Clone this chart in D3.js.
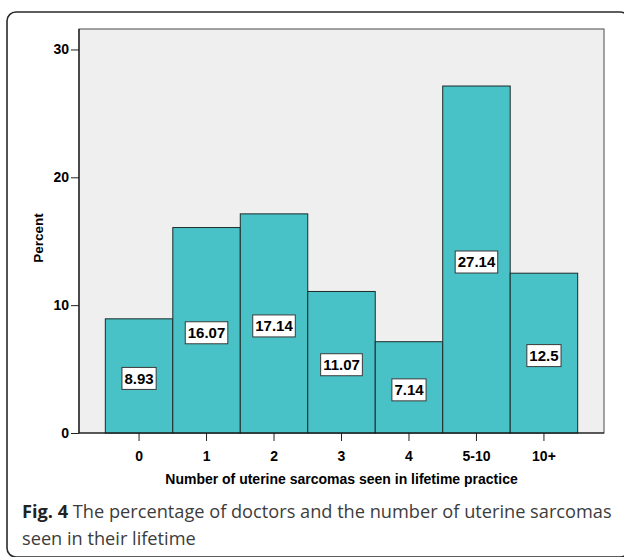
<!DOCTYPE html>
<html>
<head>
<meta charset="utf-8">
<script src="https://cdn.jsdelivr.net/npm/d3@7"></script>
<style>
  html, body { margin: 0; padding: 0; background: #fff; }
  svg { display: block; }
</style>
</head>
<body>
<svg id="chart" width="624" height="557"></svg>
<script>
// Percentage of doctors by number of uterine sarcomas seen
const categories = ["0", "1", "2", "3", "4", "5-10", "10+"];
const percents = [8.93, 16.07, 17.14, 11.07, 7.14, 27.14, 12.5];
const yTicks = [0, 10, 20, 30];

const svg = d3.select("#chart");

// Rounded frame around figure and caption
svg.append("rect")
  .attr("x", 7).attr("y", 12)
  .attr("width", 622).attr("height", 545)
  .attr("rx", 9).attr("ry", 9)
  .attr("fill", "none")
  .attr("stroke", "#2a2a2a")
  .attr("stroke-width", 1.6);

const plot = { left: 79, right: 604, top: 29, bottom: 433 };

const x = d3.scaleBand()
  .domain(categories)
  .range([plot.left, plot.right])
  .paddingInner(0)
  .paddingOuter(0.39);

const y = d3.scaleLinear()
  .domain([0, 31.6])
  .range([plot.bottom, plot.top]);

// Plot background
svg.append("rect")
  .attr("x", plot.left).attr("y", plot.top)
  .attr("width", plot.right - plot.left)
  .attr("height", plot.bottom - plot.top)
  .attr("fill", "#efefef")
  .attr("stroke", "#4a4a4a")
  .attr("stroke-width", 1);

const data = categories.map((c, i) => ({ c, v: percents[i] }));

// Bars
svg.append("g").selectAll("rect")
  .data(data)
  .join("rect")
  .attr("x", d => x(d.c))
  .attr("y", d => y(d.v))
  .attr("width", x.bandwidth())
  .attr("height", d => y(0) - y(d.v))
  .attr("fill", "#48c2c6")
  .attr("stroke", "#1e2a2a")
  .attr("stroke-width", 1);

// Value labels in boxes
const labelFont = "bold 15px Arial, 'Liberation Sans', sans-serif";
const lg = svg.append("g").selectAll("g")
  .data(data)
  .join("g")
  .attr("transform", d => `translate(${x(d.c) + x.bandwidth() / 2},${(y(d.v) + y(0)) / 2 + 2.5})`);

lg.append("text")
  .attr("text-anchor", "middle")
  .attr("dy", "0.36em")
  .style("font", labelFont)
  .attr("fill", "#000")
  .text(d => String(d.v))
  .each(function () {
    const w = this.getComputedTextLength();
    d3.select(this.parentNode).insert("rect", "text")
      .attr("x", -w / 2 - 2.5)
      .attr("y", -11)
      .attr("width", w + 5)
      .attr("height", 22)
      .attr("fill", "#fff")
      .attr("stroke", "#3a3a3a")
      .attr("stroke-width", 1);
  });

// Axes
const axisFont = "bold 14px Arial, 'Liberation Sans', sans-serif";

const yAxis = svg.append("g")
  .attr("transform", `translate(${plot.left},0)`)
  .call(d3.axisLeft(y).tickValues(yTicks).tickSize(8).tickPadding(2).tickSizeOuter(0));
yAxis.select(".domain").remove();
yAxis.selectAll("line").attr("stroke", "#222");
yAxis.selectAll("text").style("font", axisFont).attr("fill", "#000");

const xAxis = svg.append("g")
  .attr("transform", `translate(0,${plot.bottom})`)
  .call(d3.axisBottom(x).tickSize(8).tickPadding(10).tickSizeOuter(0));
xAxis.select(".domain").remove();
xAxis.selectAll("line").attr("stroke", "#222");
xAxis.selectAll("text").style("font", axisFont).attr("fill", "#000");

// Axis lines
svg.append("line")
  .attr("x1", plot.left).attr("x2", plot.left)
  .attr("y1", plot.top).attr("y2", plot.bottom)
  .attr("stroke", "#111").attr("stroke-width", 1.2);
svg.append("line")
  .attr("x1", plot.left).attr("x2", plot.right)
  .attr("y1", plot.bottom).attr("y2", plot.bottom)
  .attr("stroke", "#111").attr("stroke-width", 1.2);

// Axis titles
svg.append("text")
  .attr("x", (plot.left + plot.right) / 2)
  .attr("y", 484)
  .attr("text-anchor", "middle")
  .style("font", "bold 14px Arial, 'Liberation Sans', sans-serif")
  .attr("fill", "#000")
  .text("Number of uterine sarcomas seen in lifetime practice");

svg.append("text")
  .attr("transform", "translate(43,238) rotate(-90)")
  .attr("text-anchor", "middle")
  .style("font", "bold 13.5px Arial, 'Liberation Sans', sans-serif")
  .attr("fill", "#000")
  .text("Percent");

// Caption
const capFamily = "'Open Sans', 'Noto Sans', sans-serif";
const cap = svg.append("text")
  .attr("x", 22)
  .attr("y", 518)
  .style("font-family", capFamily)
  .style("font-size", "17px")
  .attr("fill", "#3c3c3c");
cap.append("tspan").style("font-weight", "bold").attr("fill", "#222").text("Fig. 4");
cap.append("tspan").text(" The percentage of doctors and the number of uterine sarcomas");

// size the caption so the first line spans the frame width
const capSize = 17 * 590 / cap.node().getComputedTextLength();
cap.style("font-size", capSize + "px");

svg.append("text")
  .attr("x", 22)
  .attr("y", 545)
  .style("font-family", capFamily)
  .style("font-size", capSize + "px")
  .attr("fill", "#3c3c3c")
  .text("seen in their lifetime");
</script>
</body>
</html>
